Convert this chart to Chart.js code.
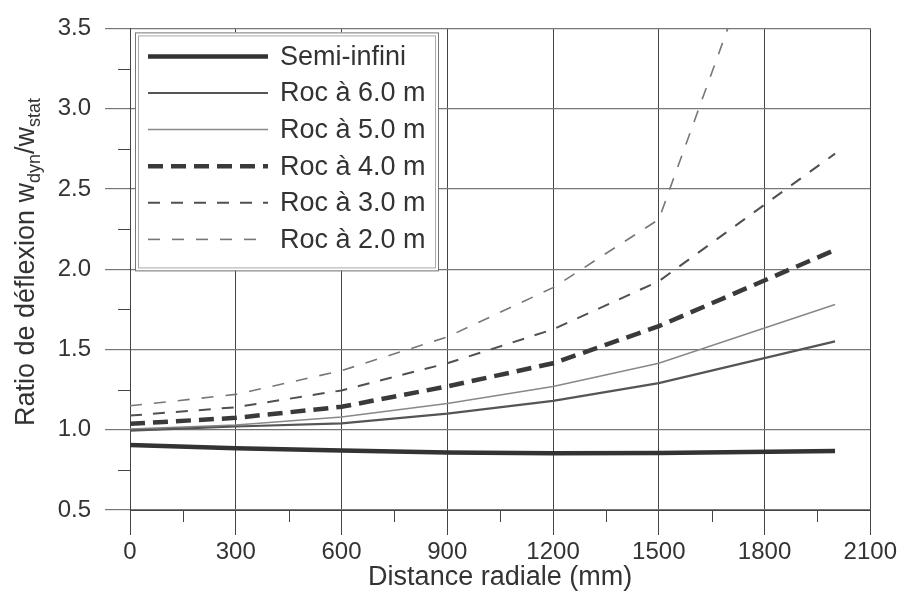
<!DOCTYPE html>
<html>
<head>
<meta charset="utf-8">
<script src="https://cdn.jsdelivr.net/npm/chart.js@4"></script>
<style>
  html, body { margin: 0; background: #fff; }
</style>
</head>
<body>
<canvas id="myChart" width="900" height="602"></canvas>
<script>
// distances radiales (mm) et ratios
var distances = [0, 300, 600, 900, 1200, 1500, 2000];
var semiInfini = [0.905, 0.885, 0.870, 0.858, 0.853, 0.855, 0.867];
var roc6 = [0.995, 1.02, 1.04, 1.10, 1.18, 1.29, 1.55];
var roc5 = [1.005, 1.03, 1.08, 1.163, 1.27, 1.414, 1.78];
var roc4 = [1.037, 1.074, 1.143, 1.27, 1.414, 1.645, 2.12];
var roc3 = [1.088, 1.14, 1.245, 1.414, 1.625, 1.925, 2.72];
var roc2 = [1.149, 1.22, 1.368, 1.578, 1.885, 2.31, 5.35];

var xTicks = [0, 300, 600, 900, 1200, 1500, 1800, 2100];
var yTicks = [0.5, 1.0, 1.5, 2.0, 2.5, 3.0, 3.5];

var FONT = 'Liberation Sans, Arial, sans-serif';

function pts(vals) {
    return distances.map(function (d, i) { return { x: d, y: vals[i] }; });
}

var legendBox = {
    id: 'legendBox',
    afterDatasetsDraw: function (chart) {
        var ctx = chart.ctx, a = chart.chartArea;
        var sx = chart.scales.x, sy = chart.scales.y;
        ctx.save();

        // petites graduations
        ctx.strokeStyle = '#444';
        ctx.lineWidth = 1;
        ctx.beginPath();
        for (var i = 0; i < xTicks.length - 1; i++) {
            var px = Math.round(sx.getPixelForValue((xTicks[i] + xTicks[i + 1]) / 2)) + 0.5;
            ctx.moveTo(px, a.bottom);
            ctx.lineTo(px, a.bottom + 12);
        }
        for (var j = 0; j < yTicks.length - 1; j++) {
            var py = Math.round(sy.getPixelForValue((yTicks[j] + yTicks[j + 1]) / 2)) + 0.5;
            ctx.moveTo(a.left - 12, py);
            ctx.lineTo(a.left, py);
        }
        ctx.stroke();

        // légende
        var x0 = a.left + 5, y0 = a.top + 4, w = 303, h = 238;
        ctx.fillStyle = '#fff';
        ctx.fillRect(x0, y0, w, h);
        ctx.strokeStyle = '#777';
        ctx.lineWidth = 1;
        ctx.strokeRect(x0 + 0.5, y0 + 0.5, w, h);
        ctx.strokeStyle = '#aaa';
        ctx.strokeRect(x0 + 3.5, y0 + 3.5, w - 6, h - 6);

        ctx.font = '27px ' + FONT;
        ctx.textBaseline = 'middle';
        ctx.textAlign = 'left';
        chart.data.datasets.forEach(function (ds, k) {
            var yy = y0 + 24 + k * 36.6;
            ctx.strokeStyle = ds.borderColor;
            ctx.lineWidth = ds.borderWidth;
            ctx.setLineDash(ds.borderDash || []);
            ctx.lineCap = 'butt';
            ctx.beginPath();
            ctx.moveTo(x0 + 13, yy);
            ctx.lineTo(x0 + 133, yy);
            ctx.stroke();
            ctx.setLineDash([]);
            ctx.fillStyle = '#333';
            ctx.fillText(ds.label, x0 + 145, yy + 1);
        });

        // titre de l'axe y avec indices
        var parts = [
            ['Ratio de déflexion w', 27, 0],
            ['dyn', 18, 6],
            ['/w', 27, 0],
            ['stat', 18, 6]
        ];
        var total = 0;
        parts.forEach(function (p) {
            ctx.font = p[1] + 'px ' + FONT;
            total += ctx.measureText(p[0]).width;
        });
        ctx.translate(34, 262 + total / 2);
        ctx.rotate(-Math.PI / 2);
        ctx.textBaseline = 'alphabetic';
        ctx.fillStyle = '#333';
        var cx = 0;
        parts.forEach(function (p) {
            ctx.font = p[1] + 'px ' + FONT;
            ctx.fillText(p[0], cx, p[2]);
            cx += ctx.measureText(p[0]).width;
        });
        ctx.restore();
    }
};

var ctx = document.getElementById('myChart').getContext('2d');
var myChart = new Chart(ctx, {
    type: 'line',
    data: {
        datasets: [
            { label: 'Semi-infini', data: pts(semiInfini), borderColor: '#333', borderWidth: 4.5 },
            { label: 'Roc à 6.0 m', data: pts(roc6), borderColor: '#555', borderWidth: 2.2 },
            { label: 'Roc à 5.0 m', data: pts(roc5), borderColor: '#888', borderWidth: 1.5 },
            { label: 'Roc à 4.0 m', data: pts(roc4), borderColor: '#3a3a3a', borderWidth: 4.5, borderDash: [15, 8] },
            { label: 'Roc à 3.0 m', data: pts(roc3), borderColor: '#505050', borderWidth: 2, borderDash: [12, 11] },
            { label: 'Roc à 2.0 m', data: pts(roc2), borderColor: '#777', borderWidth: 1.6, borderDash: [12, 12] }
        ]
    },
    options: {
        responsive: false,
        animation: false,
        layout: { padding: { left: 0, right: 18, top: 21, bottom: 0 } },
        elements: {
            point: { radius: 0 },
            line: { tension: 0, borderCapStyle: 'butt' }
        },
        plugins: {
            legend: { display: false },
            tooltip: { enabled: false }
        },
        scales: {
            x: {
                type: 'linear',
                min: 0,
                max: 2100,
                afterFit: function (s) { s.height = 92; },
                afterBuildTicks: function (s) { s.ticks = xTicks.map(function (v) { return { value: v }; }); },
                ticks: {
                    font: { family: FONT, size: 24 },
                    color: '#333',
                    padding: 3,
                    maxRotation: 0,
                    callback: function (v) { return String(v); }
                },
                grid: { color: '#444', lineWidth: 1, tickLength: 25 },
                border: { color: '#444' },
                title: {
                    display: true,
                    text: 'Distance radiale (mm)',
                    font: { family: FONT, size: 27 },
                    color: '#333',
                    padding: { top: 0, bottom: 8 }
                }
            },
            y: {
                min: 0.5,
                max: 3.5,
                afterFit: function (s) { s.width = 130; },
                afterBuildTicks: function (s) { s.ticks = yTicks.map(function (v) { return { value: v }; }); },
                ticks: {
                    font: { family: FONT, size: 24 },
                    color: '#333',
                    padding: 14,
                    callback: function (v) { return v.toFixed(1); }
                },
                grid: { color: '#777', lineWidth: 1.2, tickLength: 25 },
                border: { color: '#444' }
            }
        }
    },
    plugins: [legendBox]
});
</script>
</body>
</html>
